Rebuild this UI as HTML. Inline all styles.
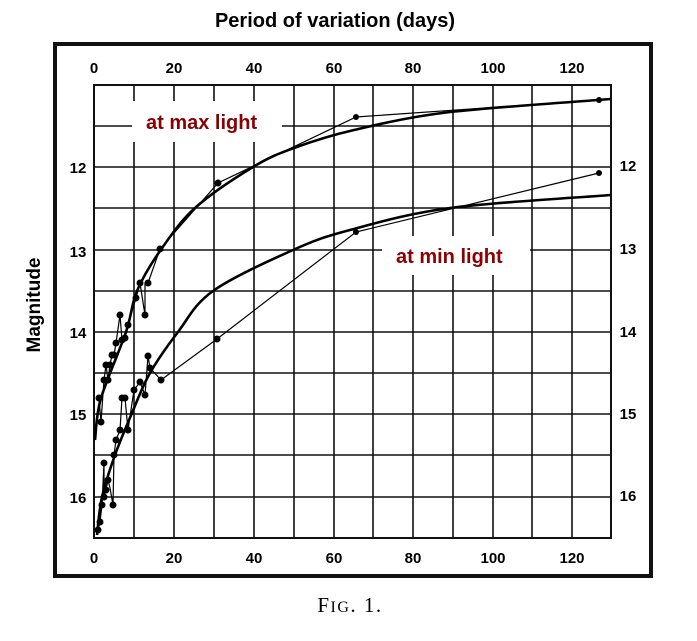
<!DOCTYPE html>
<html><head><meta charset="utf-8"><style>
html,body{margin:0;padding:0;background:#fff;}
svg{display:block;}
</style></head><body>
<svg width="697" height="641" viewBox="0 0 697 641" xmlns="http://www.w3.org/2000/svg">
<rect width="697" height="641" fill="#fff"/>
<text x="335" y="27" font-family="Liberation Sans, sans-serif" font-weight="bold" font-size="20" text-anchor="middle" fill="#000">Period of variation (days)</text>
<text transform="translate(40,305) rotate(-90)" font-family="Liberation Sans, sans-serif" font-weight="bold" font-size="19" text-anchor="middle" fill="#000">Magnitude</text>
<rect x="55" y="44" width="596" height="532" fill="none" stroke="#111" stroke-width="4"/>
<g stroke="#111" stroke-width="1.6" fill="none">
<rect x="94" y="85" width="517" height="453" stroke-width="2"/>
<path d="M134 85V538M174 85V538M214 85V538M254 85V538M294 85V538M334 85V538M373 85V538M413 85V538M453 85V538M493 85V538M532 85V538M572 85V538"/>
<path d="M94 126H611M94 167H611M94 208H611M94 250H611M94 291H611M94 332H611M94 373H611M94 414H611M94 455H611M94 497H611"/>
</g>
<rect x="132" y="101" width="150" height="41" fill="#fff"/>
<rect x="382" y="236" width="148" height="39" fill="#fff"/>
<text x="146" y="129" font-family="Liberation Sans, sans-serif" font-weight="bold" font-size="20" fill="#8b0000">at max light</text>
<text x="396" y="263" font-family="Liberation Sans, sans-serif" font-weight="bold" font-size="20" fill="#8b0000">at min light</text>
<g font-family="Liberation Sans, sans-serif" font-weight="bold" font-size="15" fill="#000" text-anchor="middle">
<text x="94" y="73">0</text><text x="174" y="73">20</text><text x="254" y="73">40</text><text x="334" y="73">60</text><text x="413" y="73">80</text><text x="493" y="73">100</text><text x="572" y="73">120</text>
<text x="94" y="563">0</text><text x="174" y="563">20</text><text x="254" y="563">40</text><text x="334" y="563">60</text><text x="413" y="563">80</text><text x="493" y="563">100</text><text x="572" y="563">120</text>
<text x="78" y="173">12</text><text x="78" y="257">13</text><text x="78" y="338">14</text><text x="78" y="420">15</text><text x="78" y="503">16</text>
<text x="628" y="171">12</text><text x="628" y="254">13</text><text x="628" y="337">14</text><text x="628" y="419">15</text><text x="628" y="501">16</text>
</g>
<g fill="none" stroke="#000" stroke-width="2.6">
<path d="M95 440 C96 433 95.8 416 101 398 C106.2 380.7 120 349.8 126 332 C132 314.2 131.3 304.5 137 291 C142.7 277.5 150.3 264.8 160 251 C169.7 237.2 179.5 222 195 208 C210.5 194 236.5 177 253 167 C269.5 157 277.2 154.2 294 148 C310.8 141.8 328 136 354 130 C380 124 407.2 117.2 450 112 C492.8 107.2 584.2 101.2 611 99"/>
<path d="M97 535 C97.8 528.7 99 510.3 102 497 C105 484.3 110 469 115 455 C120 441 126.2 426.7 132 413 C137.8 399.3 142.3 386.5 150 373 C157.7 359.5 167.5 345.7 178 332 C188.5 318.3 193.8 304.7 213 291 C232.2 277.3 270.2 260.2 293 250 C315.8 239.8 323.8 237 350 230 C376.2 223 406.5 213.8 450 208 C493.5 202.2 584.2 197.2 611 195"/>
</g>
<g fill="none" stroke="#000" stroke-width="1.2">
<polyline points="99,398 101,422 104,380 106,365 108,380 110,365 112,355 114,355 116,343 120,315 122,340 125,338 128,325 136,298 140,283 145,315 145,283 148,283 160,249 218,183 356,117 599,100"/>
<polyline points="98,530 100,522 102,505 104,463 104,497 106,490 108,480 110,488 113,505 114,455 116,440 120,430 122,398 125,398 128,430 134,390 140,382 145,395 148,356 150,368 161,380 217,339 356,232 599,173"/>
</g>
<g fill="#000">
<circle cx="99" cy="398" r="3.5"/><circle cx="101" cy="422" r="3.5"/><circle cx="104" cy="380" r="3.5"/><circle cx="106" cy="365" r="3.5"/><circle cx="108" cy="380" r="3.5"/><circle cx="110" cy="365" r="3.5"/><circle cx="112" cy="355" r="3.5"/><circle cx="114" cy="355" r="3.5"/><circle cx="116" cy="343" r="3.5"/><circle cx="120" cy="315" r="3.5"/><circle cx="122" cy="340" r="3.5"/><circle cx="125" cy="338" r="3.5"/><circle cx="128" cy="325" r="3.5"/><circle cx="136" cy="298" r="3.5"/><circle cx="140" cy="283" r="3.5"/><circle cx="145" cy="315" r="3.5"/><circle cx="148" cy="283" r="3.5"/><circle cx="160" cy="249" r="3.5"/><circle cx="218" cy="183" r="3.5"/><circle cx="356" cy="117" r="3"/><circle cx="599" cy="100" r="3"/>
<circle cx="98" cy="530" r="3.5"/><circle cx="100" cy="522" r="3.5"/><circle cx="102" cy="505" r="3.5"/><circle cx="104" cy="463" r="3.5"/><circle cx="104" cy="497" r="3.5"/><circle cx="106" cy="490" r="3.5"/><circle cx="108" cy="480" r="3.5"/><circle cx="113" cy="505" r="3.5"/><circle cx="114" cy="455" r="3.5"/><circle cx="116" cy="440" r="3.5"/><circle cx="120" cy="430" r="3.5"/><circle cx="122" cy="398" r="3.5"/><circle cx="125" cy="398" r="3.5"/><circle cx="128" cy="430" r="3.5"/><circle cx="134" cy="390" r="3.5"/><circle cx="140" cy="382" r="3.5"/><circle cx="145" cy="395" r="3.5"/><circle cx="148" cy="356" r="3.5"/><circle cx="150" cy="368" r="3.5"/><circle cx="161" cy="380" r="3.5"/><circle cx="217" cy="339" r="3.5"/><circle cx="356" cy="232" r="3"/><circle cx="599" cy="173" r="3"/>
</g>
<text x="350" y="612" font-family="Liberation Serif, serif" font-size="21" text-anchor="middle" fill="#000" letter-spacing="1.5">F<tspan font-size="16">IG</tspan>. 1.</text>
</svg>
</body></html>
